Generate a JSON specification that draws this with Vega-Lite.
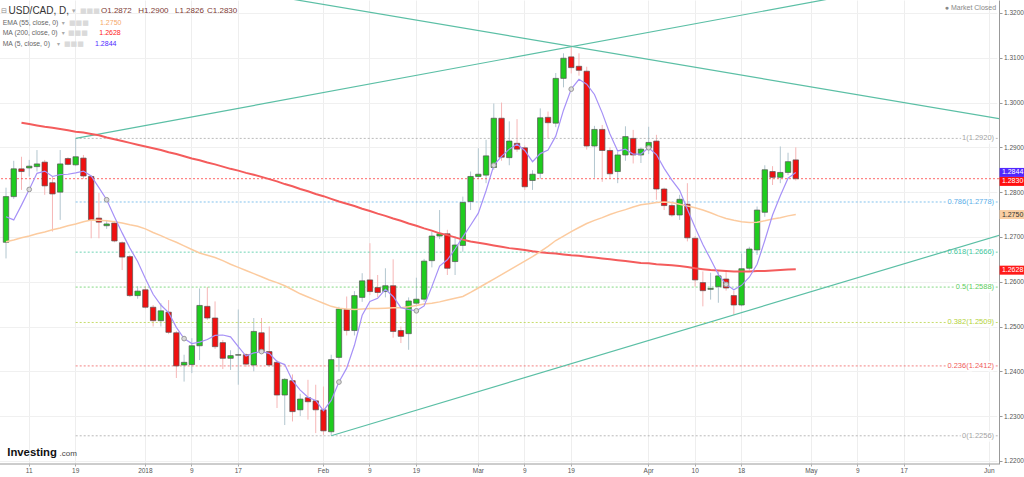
{
"$schema": "https://vega.github.io/schema/vega-lite/v6.json",
"width": 999, "height": 464,
"autosize": {"type": "none"},
"padding": {"left": 0, "top": 0, "right": 25, "bottom": 13},
"background": "white",
"config": {"view": {"stroke": null}, "font": "Liberation Sans"},
"data": {"values": [{}]},
"datasets": {
"candles": [
{"date":"2017-12-06","open":1.2688,"high":1.2810,"low":1.2652,"close":1.2790,"ma5":1.2745,"ema55":1.2689,"ma200":null},
{"date":"2017-12-07","open":1.2790,"high":1.2870,"low":1.2785,"close":1.2852,"ma5":1.2738,"ema55":1.2693,"ma200":null},
{"date":"2017-12-08","open":1.2852,"high":1.2879,"low":1.2805,"close":1.2846,"ma5":1.2771,"ema55":1.2698,"ma200":1.2955},
{"date":"2017-12-11","open":1.2854,"high":1.2872,"low":1.2835,"close":1.2858,"ma5":1.2806,"ema55":1.2702,"ma200":1.2952},
{"date":"2017-12-12","open":1.2857,"high":1.2894,"low":1.2846,"close":1.2863,"ma5":1.2842,"ema55":1.2707,"ma200":1.2949},
{"date":"2017-12-13","open":1.2867,"high":1.2872,"low":1.2794,"close":1.2814,"ma5":1.2847,"ema55":1.2711,"ma200":1.2946},
{"date":"2017-12-14","open":1.2821,"high":1.2835,"low":1.2712,"close":1.2796,"ma5":1.2835,"ema55":1.2716,"ma200":1.2944},
{"date":"2017-12-15","open":1.2800,"high":1.2894,"low":1.2738,"close":1.2863,"ma5":1.2839,"ema55":1.2720,"ma200":1.2941},
{"date":"2017-12-18","open":1.2875,"high":1.2878,"low":1.2860,"close":1.2862,"ma5":1.2840,"ema55":1.2725,"ma200":1.2938},
{"date":"2017-12-19","open":1.2861,"high":1.2920,"low":1.2858,"close":1.2879,"ma5":1.2843,"ema55":1.2729,"ma200":1.2935},
{"date":"2017-12-20","open":1.2876,"high":1.2883,"low":1.2830,"close":1.2836,"ma5":1.2847,"ema55":1.2734,"ma200":1.2933},
{"date":"2017-12-21","open":1.2835,"high":1.2838,"low":1.2697,"close":1.2738,"ma5":1.2836,"ema55":1.2738,"ma200":1.2930},
{"date":"2017-12-22","open":1.2742,"high":1.2798,"low":1.2697,"close":1.2733,"ma5":1.2810,"ema55":1.2737,"ma200":1.2927},
{"date":"2017-12-25","open":1.2725,"high":1.2738,"low":1.2718,"close":1.2729,"ma5":1.2783,"ema55":1.2736,"ma200":1.2922},
{"date":"2017-12-26","open":1.2731,"high":1.2736,"low":1.2688,"close":1.2691,"ma5":1.2745,"ema55":1.2734,"ma200":1.2918},
{"date":"2017-12-27","open":1.2687,"high":1.2690,"low":1.2626,"close":1.2655,"ma5":1.2709,"ema55":1.2731,"ma200":1.2914},
{"date":"2017-12-28","open":1.2656,"high":1.2660,"low":1.2566,"close":1.2569,"ma5":1.2675,"ema55":1.2727,"ma200":1.2910},
{"date":"2017-12-29","open":1.2569,"high":1.2590,"low":1.2562,"close":1.2579,"ma5":1.2645,"ema55":1.2724,"ma200":1.2906},
{"date":"2018-01-01","open":1.2582,"high":1.2590,"low":1.2540,"close":1.2543,"ma5":1.2607,"ema55":1.2718,"ma200":1.2902},
{"date":"2018-01-02","open":1.2543,"high":1.2548,"low":1.2500,"close":1.2513,"ma5":1.2572,"ema55":1.2710,"ma200":1.2898},
{"date":"2018-01-03","open":1.2513,"high":1.2552,"low":1.2500,"close":1.2535,"ma5":1.2548,"ema55":1.2703,"ma200":1.2894},
{"date":"2018-01-04","open":1.2532,"high":1.2559,"low":1.2483,"close":1.2487,"ma5":1.2531,"ema55":1.2695,"ma200":1.2889},
{"date":"2018-01-05","open":1.2486,"high":1.2490,"low":1.2385,"close":1.2412,"ma5":1.2498,"ema55":1.2688,"ma200":1.2885},
{"date":"2018-01-08","open":1.2414,"high":1.2437,"low":1.2377,"close":1.2420,"ma5":1.2473,"ema55":1.2680,"ma200":1.2880},
{"date":"2018-01-09","open":1.2415,"high":1.2474,"low":1.2396,"close":1.2457,"ma5":1.2462,"ema55":1.2672,"ma200":1.2875},
{"date":"2018-01-10","open":1.2457,"high":1.2585,"low":1.2425,"close":1.2547,"ma5":1.2465,"ema55":1.2664,"ma200":1.2871},
{"date":"2018-01-11","open":1.2545,"high":1.2588,"low":1.2515,"close":1.2519,"ma5":1.2471,"ema55":1.2659,"ma200":1.2866},
{"date":"2018-01-12","open":1.2519,"high":1.2556,"low":1.2450,"close":1.2455,"ma5":1.2480,"ema55":1.2654,"ma200":1.2862},
{"date":"2018-01-15","open":1.2464,"high":1.2470,"low":1.2405,"close":1.2429,"ma5":1.2481,"ema55":1.2647,"ma200":1.2857},
{"date":"2018-01-16","open":1.2429,"high":1.2447,"low":1.2403,"close":1.2435,"ma5":1.2477,"ema55":1.2639,"ma200":1.2852},
{"date":"2018-01-17","open":1.2436,"high":1.2538,"low":1.2370,"close":1.2437,"ma5":1.2455,"ema55":1.2632,"ma200":1.2848},
{"date":"2018-01-18","open":1.2437,"high":1.2440,"low":1.2410,"close":1.2416,"ma5":1.2434,"ema55":1.2625,"ma200":1.2843},
{"date":"2018-01-19","open":1.2414,"high":1.2519,"low":1.2400,"close":1.2489,"ma5":1.2441,"ema55":1.2618,"ma200":1.2839},
{"date":"2018-01-22","open":1.2486,"high":1.2519,"low":1.2440,"close":1.2444,"ma5":1.2444,"ema55":1.2611,"ma200":1.2834},
{"date":"2018-01-23","open":1.2444,"high":1.2500,"low":1.2410,"close":1.2414,"ma5":1.2440,"ema55":1.2604,"ma200":1.2829},
{"date":"2018-01-24","open":1.2420,"high":1.2425,"low":1.2318,"close":1.2347,"ma5":1.2422,"ema55":1.2598,"ma200":1.2824},
{"date":"2018-01-25","open":1.2347,"high":1.2385,"low":1.2280,"close":1.2382,"ma5":1.2415,"ema55":1.2591,"ma200":1.2818},
{"date":"2018-01-26","open":1.2379,"high":1.2393,"low":1.2288,"close":1.2310,"ma5":1.2379,"ema55":1.2582,"ma200":1.2813},
{"date":"2018-01-29","open":1.2314,"high":1.2350,"low":1.2300,"close":1.2338,"ma5":1.2358,"ema55":1.2573,"ma200":1.2807},
{"date":"2018-01-30","open":1.2341,"high":1.2381,"low":1.2292,"close":1.2332,"ma5":1.2342,"ema55":1.2566,"ma200":1.2802},
{"date":"2018-01-31","open":1.2334,"high":1.2370,"low":1.2262,"close":1.2314,"ma5":1.2335,"ema55":1.2559,"ma200":1.2796},
{"date":"2018-02-01","open":1.2314,"high":1.2366,"low":1.2258,"close":1.2267,"ma5":1.2312,"ema55":1.2552,"ma200":1.2791},
{"date":"2018-02-02","open":1.2265,"high":1.2437,"low":1.2256,"close":1.2426,"ma5":1.2335,"ema55":1.2545,"ma200":1.2785},
{"date":"2018-02-05","open":1.2431,"high":1.2544,"low":1.2399,"close":1.2539,"ma5":1.2376,"ema55":1.2541,"ma200":1.2779},
{"date":"2018-02-06","open":1.2538,"high":1.2567,"low":1.2480,"close":1.2491,"ma5":1.2407,"ema55":1.2539,"ma200":1.2774},
{"date":"2018-02-07","open":1.2491,"high":1.2579,"low":1.2480,"close":1.2569,"ma5":1.2458,"ema55":1.2538,"ma200":1.2769},
{"date":"2018-02-08","open":1.2565,"high":1.2619,"low":1.2555,"close":1.2602,"ma5":1.2525,"ema55":1.2539,"ma200":1.2763},
{"date":"2018-02-09","open":1.2604,"high":1.2686,"low":1.2570,"close":1.2578,"ma5":1.2556,"ema55":1.2540,"ma200":1.2758},
{"date":"2018-02-12","open":1.2587,"high":1.2615,"low":1.2565,"close":1.2576,"ma5":1.2563,"ema55":1.2540,"ma200":1.2752},
{"date":"2018-02-13","open":1.2578,"high":1.2630,"low":1.2565,"close":1.2591,"ma5":1.2583,"ema55":1.2541,"ma200":1.2747},
{"date":"2018-02-14","open":1.2591,"high":1.2650,"low":1.2475,"close":1.2489,"ma5":1.2567,"ema55":1.2542,"ma200":1.2741},
{"date":"2018-02-15","open":1.2491,"high":1.2500,"low":1.2463,"close":1.2478,"ma5":1.2542,"ema55":1.2542,"ma200":1.2736},
{"date":"2018-02-16","open":1.2484,"high":1.2565,"low":1.2448,"close":1.2557,"ma5":1.2538,"ema55":1.2544,"ma200":1.2730},
{"date":"2018-02-19","open":1.2552,"high":1.2609,"low":1.2545,"close":1.2561,"ma5":1.2535,"ema55":1.2547,"ma200":1.2725},
{"date":"2018-02-20","open":1.2561,"high":1.2651,"low":1.2555,"close":1.2646,"ma5":1.2546,"ema55":1.2550,"ma200":1.2719},
{"date":"2018-02-21","open":1.2647,"high":1.2712,"low":1.2632,"close":1.2702,"ma5":1.2589,"ema55":1.2552,"ma200":1.2714},
{"date":"2018-02-22","open":1.2702,"high":1.2760,"low":1.2695,"close":1.2707,"ma5":1.2635,"ema55":1.2555,"ma200":1.2708},
{"date":"2018-02-23","open":1.2707,"high":1.2716,"low":1.2615,"close":1.2630,"ma5":1.2649,"ema55":1.2559,"ma200":1.2704},
{"date":"2018-02-26","open":1.2645,"high":1.2701,"low":1.2615,"close":1.2682,"ma5":1.2673,"ema55":1.2563,"ma200":1.2699},
{"date":"2018-02-27","open":1.2681,"high":1.2790,"low":1.2667,"close":1.2777,"ma5":1.2700,"ema55":1.2567,"ma200":1.2694},
{"date":"2018-02-28","open":1.2779,"high":1.2846,"low":1.2760,"close":1.2835,"ma5":1.2726,"ema55":1.2576,"ma200":1.2690},
{"date":"2018-03-01","open":1.2835,"high":1.2898,"low":1.2830,"close":1.2840,"ma5":1.2753,"ema55":1.2586,"ma200":1.2687},
{"date":"2018-03-02","open":1.2838,"high":1.2917,"low":1.2820,"close":1.2881,"ma5":1.2803,"ema55":1.2596,"ma200":1.2684},
{"date":"2018-03-05","open":1.2855,"high":1.2998,"low":1.2850,"close":1.2965,"ma5":1.2860,"ema55":1.2606,"ma200":1.2681},
{"date":"2018-03-06","open":1.2965,"high":1.3000,"low":1.2870,"close":1.2878,"ma5":1.2880,"ema55":1.2616,"ma200":1.2678},
{"date":"2018-03-07","open":1.2877,"high":1.2958,"low":1.2860,"close":1.2914,"ma5":1.2896,"ema55":1.2626,"ma200":1.2675},
{"date":"2018-03-08","open":1.2909,"high":1.2963,"low":1.2890,"close":1.2896,"ma5":1.2907,"ema55":1.2636,"ma200":1.2673},
{"date":"2018-03-09","open":1.2899,"high":1.2904,"low":1.2805,"close":1.2812,"ma5":1.2893,"ema55":1.2646,"ma200":1.2671},
{"date":"2018-03-12","open":1.2826,"high":1.2849,"low":1.2805,"close":1.2840,"ma5":1.2868,"ema55":1.2656,"ma200":1.2668},
{"date":"2018-03-13","open":1.2842,"high":1.2987,"low":1.2830,"close":1.2966,"ma5":1.2886,"ema55":1.2667,"ma200":1.2666},
{"date":"2018-03-14","open":1.2967,"high":1.2980,"low":1.2920,"close":1.2955,"ma5":1.2894,"ema55":1.2679,"ma200":1.2664},
{"date":"2018-03-15","open":1.2954,"high":1.3066,"low":1.2945,"close":1.3054,"ma5":1.2925,"ema55":1.2692,"ma200":1.2663},
{"date":"2018-03-16","open":1.3054,"high":1.3110,"low":1.3034,"close":1.3099,"ma5":1.2983,"ema55":1.2702,"ma200":1.2661},
{"date":"2018-03-19","open":1.3102,"high":1.3125,"low":1.3065,"close":1.3078,"ma5":1.3030,"ema55":1.2712,"ma200":1.2659},
{"date":"2018-03-20","open":1.3081,"high":1.3110,"low":1.3060,"close":1.3072,"ma5":1.3052,"ema55":1.2721,"ma200":1.2658},
{"date":"2018-03-21","open":1.3070,"high":1.3080,"low":1.2895,"close":1.2903,"ma5":1.3041,"ema55":1.2730,"ma200":1.2656},
{"date":"2018-03-22","open":1.2903,"high":1.2948,"low":1.2832,"close":1.2940,"ma5":1.3018,"ema55":1.2737,"ma200":1.2654},
{"date":"2018-03-23","open":1.2940,"high":1.2950,"low":1.2823,"close":1.2893,"ma5":1.2977,"ema55":1.2743,"ma200":1.2652},
{"date":"2018-03-26","open":1.2893,"high":1.2900,"low":1.2830,"close":1.2841,"ma5":1.2930,"ema55":1.2750,"ma200":1.2650},
{"date":"2018-03-27","open":1.2846,"high":1.2890,"low":1.2820,"close":1.2883,"ma5":1.2892,"ema55":1.2756,"ma200":1.2648},
{"date":"2018-03-28","open":1.2883,"high":1.2947,"low":1.2870,"close":1.2924,"ma5":1.2896,"ema55":1.2761,"ma200":1.2646},
{"date":"2018-03-29","open":1.2920,"high":1.2939,"low":1.2864,"close":1.2883,"ma5":1.2885,"ema55":1.2767,"ma200":1.2644},
{"date":"2018-03-30","open":1.2883,"high":1.2900,"low":1.2865,"close":1.2896,"ma5":1.2885,"ema55":1.2772,"ma200":1.2642},
{"date":"2018-04-02","open":1.2899,"high":1.2946,"low":1.2885,"close":1.2911,"ma5":1.2899,"ema55":1.2774,"ma200":1.2641},
{"date":"2018-04-03","open":1.2914,"high":1.2928,"low":1.2783,"close":1.2807,"ma5":1.2884,"ema55":1.2777,"ma200":1.2639},
{"date":"2018-04-04","open":1.2807,"high":1.2810,"low":1.2760,"close":1.2770,"ma5":1.2853,"ema55":1.2778,"ma200":1.2638},
{"date":"2018-04-05","open":1.2770,"high":1.2775,"low":1.2745,"close":1.2749,"ma5":1.2827,"ema55":1.2777,"ma200":1.2637},
{"date":"2018-04-06","open":1.2749,"high":1.2794,"low":1.2738,"close":1.2784,"ma5":1.2804,"ema55":1.2773,"ma200":1.2635},
{"date":"2018-04-09","open":1.2773,"high":1.2820,"low":1.2690,"close":1.2698,"ma5":1.2762,"ema55":1.2769,"ma200":1.2633},
{"date":"2018-04-10","open":1.2697,"high":1.2702,"low":1.2589,"close":1.2604,"ma5":1.2721,"ema55":1.2765,"ma200":1.2630},
{"date":"2018-04-11","open":1.2598,"high":1.2623,"low":1.2545,"close":1.2580,"ma5":1.2683,"ema55":1.2760,"ma200":1.2628},
{"date":"2018-04-12","open":1.2583,"high":1.2620,"low":1.2560,"close":1.2585,"ma5":1.2650,"ema55":1.2754,"ma200":1.2626},
{"date":"2018-04-13","open":1.2589,"high":1.2623,"low":1.2553,"close":1.2613,"ma5":1.2616,"ema55":1.2747,"ma200":1.2625},
{"date":"2018-04-16","open":1.2606,"high":1.2623,"low":1.2580,"close":1.2586,"ma5":1.2594,"ema55":1.2741,"ma200":1.2624},
{"date":"2018-04-17","open":1.2569,"high":1.2580,"low":1.2526,"close":1.2548,"ma5":1.2582,"ema55":1.2737,"ma200":1.2623},
{"date":"2018-04-18","open":1.2548,"high":1.2663,"low":1.2545,"close":1.2629,"ma5":1.2592,"ema55":1.2734,"ma200":1.2623},
{"date":"2018-04-19","open":1.2630,"high":1.2678,"low":1.2625,"close":1.2673,"ma5":1.2610,"ema55":1.2732,"ma200":1.2623},
{"date":"2018-04-20","open":1.2671,"high":1.2768,"low":1.2660,"close":1.2760,"ma5":1.2639,"ema55":1.2733,"ma200":1.2624},
{"date":"2018-04-23","open":1.2755,"high":1.2860,"low":1.2745,"close":1.2850,"ma5":1.2692,"ema55":1.2736,"ma200":1.2624},
{"date":"2018-04-24","open":1.2846,"high":1.2858,"low":1.2816,"close":1.2833,"ma5":1.2749,"ema55":1.2740,"ma200":1.2625},
{"date":"2018-04-25","open":1.2833,"high":1.2902,"low":1.2820,"close":1.2844,"ma5":1.2792,"ema55":1.2743,"ma200":1.2626},
{"date":"2018-04-26","open":1.2844,"high":1.2888,"low":1.2838,"close":1.2868,"ma5":1.2831,"ema55":1.2747,"ma200":1.2627},
{"date":"2018-04-27","open":1.2872,"high":1.2900,"low":1.2826,"close":1.2830,"ma5":1.2844,"ema55":1.2750,"ma200":1.2628}
],
"fib": [
{"level":"1","price":1.2920,"label":"1(1.2920)"},
{"level":"0.786","price":1.2778,"label":"0.786(1.2778)"},
{"level":"0.618","price":1.2666,"label":"0.618(1.2666)"},
{"level":"0.5","price":1.2588,"label":"0.5(1.2588)"},
{"level":"0.382","price":1.2509,"label":"0.382(1.2509)"},
{"level":"0.236","price":1.2412,"label":"0.236(1.2412)"},
{"level":"0","price":1.2256,"label":"0(1.2256)"}
],
"trend": [
{"line":"a","date":"2017-12-19","price":1.2920},
{"line":"a","date":"2018-06-07","price":1.33104},
{"line":"b","date":"2018-01-17","price":1.32512},
{"line":"b","date":"2018-06-07","price":1.29562},
{"line":"c","date":"2018-02-02","price":1.2256},
{"line":"c","date":"2018-06-07","price":1.27179}
]
},
"layer": [
{"data":{"name":"candles"},
 "mark":{"type":"rule","strokeWidth":1},
 "encoding":{
  "x":{"field":"date","type":"nominal","title":null,
   "scale":{"type":"band","paddingInner":0,"paddingOuter":0,"range":[2.13,1024.2],
    "domain":["2017-12-06","2017-12-07","2017-12-08","2017-12-11","2017-12-12","2017-12-13","2017-12-14","2017-12-15","2017-12-18","2017-12-19","2017-12-20","2017-12-21","2017-12-22","2017-12-25","2017-12-26","2017-12-27","2017-12-28","2017-12-29",
    "2018-01-01","2018-01-02","2018-01-03","2018-01-04","2018-01-05","2018-01-08","2018-01-09","2018-01-10","2018-01-11","2018-01-12","2018-01-15","2018-01-16","2018-01-17","2018-01-18","2018-01-19","2018-01-22","2018-01-23","2018-01-24","2018-01-25","2018-01-26","2018-01-29","2018-01-30","2018-01-31",
    "2018-02-01","2018-02-02","2018-02-05","2018-02-06","2018-02-07","2018-02-08","2018-02-09","2018-02-12","2018-02-13","2018-02-14","2018-02-15","2018-02-16","2018-02-19","2018-02-20","2018-02-21","2018-02-22","2018-02-23","2018-02-26","2018-02-27","2018-02-28",
    "2018-03-01","2018-03-02","2018-03-05","2018-03-06","2018-03-07","2018-03-08","2018-03-09","2018-03-12","2018-03-13","2018-03-14","2018-03-15","2018-03-16","2018-03-19","2018-03-20","2018-03-21","2018-03-22","2018-03-23","2018-03-26","2018-03-27","2018-03-28","2018-03-29","2018-03-30",
    "2018-04-02","2018-04-03","2018-04-04","2018-04-05","2018-04-06","2018-04-09","2018-04-10","2018-04-11","2018-04-12","2018-04-13","2018-04-16","2018-04-17","2018-04-18","2018-04-19","2018-04-20","2018-04-23","2018-04-24","2018-04-25","2018-04-26","2018-04-27","2018-04-30",
    "2018-05-01","2018-05-02","2018-05-03","2018-05-04","2018-05-07","2018-05-08","2018-05-09","2018-05-10","2018-05-11","2018-05-14","2018-05-15","2018-05-16","2018-05-17","2018-05-18","2018-05-21","2018-05-22","2018-05-23","2018-05-24","2018-05-25","2018-05-28","2018-05-29","2018-05-30","2018-05-31",
    "2018-06-01","2018-06-04","2018-06-05","2018-06-06","2018-06-07"]},
   "axis":{"orient":"bottom","title":null,"domain":false,"grid":true,"gridColor":"#eeeeee","tickSize":2,"tickColor":"#aaaaaa","labelFontSize":6.5,"labelColor":"#555555","labelPadding":1,"labelAngle":0,"labelOverlap":false,"bandPosition":0.5,
    "values":["2017-12-11","2017-12-19","2018-01-01","2018-01-09","2018-01-17","2018-02-01","2018-02-09","2018-02-19","2018-03-01","2018-03-09","2018-03-19","2018-04-02","2018-04-10","2018-04-18","2018-05-01","2018-05-09","2018-05-17","2018-06-01"],
    "labelExpr":"['11','19','2018','9','17','Feb','9','19','Mar','9','19','Apr','10','18','May','9','17','Jun'][indexof(['2017-12-11','2017-12-19','2018-01-01','2018-01-09','2018-01-17','2018-02-01','2018-02-09','2018-02-19','2018-03-01','2018-03-09','2018-03-19','2018-04-02','2018-04-10','2018-04-18','2018-05-01','2018-05-09','2018-05-17','2018-06-01'], datum.value)]"}},
  "y":{"field":"low","type":"quantitative","title":null,
   "scale":{"domain":[1.2193,1.3229],"zero":false,"nice":false},
   "axis":{"orient":"right","title":null,"format":".4f","grid":true,"gridColor":"#f0f0f0","domainColor":"#999999","tickColor":"#999999","tickSize":3,"labelFontSize":6.5,"labelColor":"#555555","labelPadding":1.5,
    "values":[1.22,1.225,1.23,1.235,1.24,1.245,1.25,1.255,1.26,1.265,1.27,1.275,1.28,1.285,1.29,1.295,1.3,1.305,1.31,1.315,1.32]}},
  "y2":{"field":"high"},
  "color":{"condition":{"test":"datum.close < datum.open","value":"#f6b6b6"},"value":"#b2c6cf"}
 }},
{"data":{"name":"fib"},
 "mark":{"type":"rule","clip":true,"strokeDash":[2,2],"strokeWidth":1,"opacity":0.75},
 "encoding":{
  "x":{"datum":"2017-12-19","type":"nominal","title":null},
  "x2":{"datum":"2018-06-07"},
  "y":{"field":"price","type":"quantitative","title":null},
  "color":{"field":"level","type":"nominal","legend":null,
   "scale":{"domain":["1","0.786","0.618","0.5","0.382","0.236","0"],"range":["#a3a3a3","#5aaee8","#3ec59c","#5ccc5c","#b3d23a","#f05a5a","#a3a3a3"]}}
 }},
{"data":{"name":"fib"},
 "mark":{"type":"text","align":"right","baseline":"middle","dx":-3,"fontSize":7.5,"stroke":"white","strokeWidth":3,"fill":"white"},
 "encoding":{
  "x":{"datum":"2018-06-04","type":"nominal","title":null},
  "y":{"field":"price","type":"quantitative","title":null},
  "text":{"field":"label"}
 }},
{"data":{"name":"fib"},
 "mark":{"type":"text","align":"right","baseline":"middle","dx":-3,"fontSize":7.5},
 "encoding":{
  "x":{"datum":"2018-06-04","type":"nominal","title":null},
  "y":{"field":"price","type":"quantitative","title":null},
  "text":{"field":"label"},
  "color":{"field":"level","type":"nominal","legend":null}
 }},
{"mark":{"type":"rule","color":"#ff3a3a","strokeDash":[2,2],"strokeWidth":0.9,"opacity":0.85},
 "encoding":{"y":{"datum":1.2830,"title":null}}},
{"data":{"name":"trend"},
 "mark":{"type":"line","clip":true,"color":"#5bbfa5","strokeWidth":1.2},
 "encoding":{
  "x":{"field":"date","type":"nominal","title":null},
  "y":{"field":"price","type":"quantitative","title":null},
  "detail":{"field":"line"}
 }},
{"data":{"name":"candles"},
 "mark":{"type":"bar","width":{"band":0.7},"stroke":"#555555","strokeWidth":0.7},
 "encoding":{
  "x":{"field":"date","type":"nominal","title":null},
  "y":{"field":"open","type":"quantitative","title":null},
  "y2":{"field":"close"},
  "fill":{"condition":{"test":"datum.close < datum.open","value":"#f01010"},"value":"#1fcc1f"}
 }},
{"data":{"name":"candles"},
 "mark":{"type":"line","color":"#f45c5c","strokeWidth":2},
 "encoding":{
  "x":{"field":"date","type":"nominal","title":null},
  "y":{"field":"ma200","type":"quantitative","title":null}
 }},
{"data":{"name":"candles"},
 "mark":{"type":"line","color":"#fccb9f","strokeWidth":1.5},
 "encoding":{
  "x":{"field":"date","type":"nominal","title":null},
  "y":{"field":"ema55","type":"quantitative","title":null}
 }},
{"data":{"name":"candles"},
 "mark":{"type":"line","color":"#a691f7","strokeWidth":1.2},
 "encoding":{
  "x":{"field":"date","type":"nominal","title":null},
  "y":{"field":"ma5","type":"quantitative","title":null}
 }},
{"data":{"name":"candles"},
 "transform":[{"filter":{"field":"date","oneOf":["2017-12-11","2017-12-25","2018-01-08","2018-01-22","2018-02-05","2018-02-19","2018-03-05","2018-03-19","2018-04-02","2018-04-16"]}}],
 "mark":{"type":"point","shape":"circle","size":22,"filled":true,"fill":"#d9d9d9","stroke":"#9a9a9a","strokeWidth":1,"opacity":1},
 "encoding":{
  "x":{"field":"date","type":"nominal","title":null},
  "y":{"field":"ma5","type":"quantitative","title":null}
 }},
{"mark":{"type":"rule","color":"#9a9a9a","strokeWidth":1},
 "encoding":{"y":{"datum":1.2193,"title":null}}},
{"encoding":{"x":{"datum":"2018-06-06","type":"nominal","title":null},"y":{"datum":1.2844,"title":null}},
 "layer":[
  {"mark":{"type":"bar","width":26,"yOffset":-4.5,"y2Offset":4.5,"color":"#5227ff"},"encoding":{"y2":{"datum":1.2844}}},
  {"mark":{"type":"text","text":"1.2844","color":"white","fontSize":7,"align":"center","baseline":"middle"}}
 ]},
{"encoding":{"x":{"datum":"2018-06-06","type":"nominal","title":null},"y":{"datum":1.2830,"title":null}},
 "layer":[
  {"mark":{"type":"bar","width":26,"yOffset":-1.8,"y2Offset":7.2,"color":"#ff1010"},"encoding":{"y2":{"datum":1.2830}}},
  {"mark":{"type":"text","text":"1.2830","color":"white","fontSize":7,"align":"center","baseline":"middle","dy":2.7}}
 ]},
{"encoding":{"x":{"datum":"2018-06-06","type":"nominal","title":null},"y":{"datum":1.2750,"title":null}},
 "layer":[
  {"mark":{"type":"bar","width":26,"yOffset":-4.5,"y2Offset":4.5,"color":"#f9cfa3"},"encoding":{"y2":{"datum":1.2750}}},
  {"mark":{"type":"text","text":"1.2750","color":"#333333","fontSize":7,"align":"center","baseline":"middle"}}
 ]},
{"encoding":{"x":{"datum":"2018-06-06","type":"nominal","title":null},"y":{"datum":1.2628,"title":null}},
 "layer":[
  {"mark":{"type":"bar","width":26,"yOffset":-3.5,"y2Offset":5.5,"color":"#ff1a1a"},"encoding":{"y2":{"datum":1.2628}}},
  {"mark":{"type":"text","text":"1.2628","color":"white","fontSize":7,"align":"center","baseline":"middle","dy":1}}
 ]},
{"encoding":{"x":{"datum":"2017-12-06","type":"nominal","title":null},"y":{"datum":1.32045,"title":null}},
 "layer":[
  {"mark":{"type":"text","text":"⊟","align":"left","baseline":"middle","dx":-5,"fontSize":7,"color":"#888888","font":"DejaVu Sans"}},
  {"mark":{"type":"text","text":"USD/CAD, D,","align":"left","baseline":"middle","dx":2.5,"fontSize":10,"color":"#333333"}},
  {"mark":{"type":"text","text":"▾","align":"left","baseline":"middle","dx":66,"fontSize":7,"color":"#aaaaaa","font":"DejaVu Sans"}},
  {"mark":{"type":"text","text":"■■■","align":"left","baseline":"middle","dx":74,"fontSize":7,"color":"#dadada","font":"DejaVu Sans"}},
  {"mark":{"type":"text","text":"O1.2872","align":"left","baseline":"middle","dx":95,"fontSize":8,"color":"#7d3a33"}},
  {"mark":{"type":"text","text":"H1.2900","align":"left","baseline":"middle","dx":132.3,"fontSize":8,"color":"#7d3a33"}},
  {"mark":{"type":"text","text":"L1.2826","align":"left","baseline":"middle","dx":169,"fontSize":8,"color":"#7d3a33"}},
  {"mark":{"type":"text","text":"C1.2830","align":"left","baseline":"middle","dx":201,"fontSize":8,"color":"#7d3a33"}}
 ]},
{"encoding":{"x":{"datum":"2017-12-06","type":"nominal","title":null},"y":{"datum":1.31783,"title":null}},
 "layer":[
  {"mark":{"type":"text","text":"EMA (55, close, 0)","align":"left","baseline":"middle","dx":-3.3,"fontSize":6.8,"color":"#666666"}},
  {"mark":{"type":"text","text":"▾","align":"left","baseline":"middle","dx":55.7,"fontSize":6,"color":"#aaaaaa","font":"DejaVu Sans"}},
  {"mark":{"type":"text","text":"■■■","align":"left","baseline":"middle","dx":63,"fontSize":7,"color":"#dadada","font":"DejaVu Sans"}},
  {"mark":{"type":"text","text":"1.2750","align":"left","baseline":"middle","dx":94,"fontSize":7,"color":"#f5a86a"}}
 ]},
{"encoding":{"x":{"datum":"2017-12-06","type":"nominal","title":null},"y":{"datum":1.31547,"title":null}},
 "layer":[
  {"mark":{"type":"text","text":"MA (200, close, 0)","align":"left","baseline":"middle","dx":-3.3,"fontSize":6.8,"color":"#666666"}},
  {"mark":{"type":"text","text":"▾","align":"left","baseline":"middle","dx":55.7,"fontSize":6,"color":"#aaaaaa","font":"DejaVu Sans"}},
  {"mark":{"type":"text","text":"■■■","align":"left","baseline":"middle","dx":62,"fontSize":7,"color":"#dadada","font":"DejaVu Sans"}},
  {"mark":{"type":"text","text":"1.2628","align":"left","baseline":"middle","dx":93.3,"fontSize":7,"color":"#ff2020"}}
 ]},
{"encoding":{"x":{"datum":"2017-12-06","type":"nominal","title":null},"y":{"datum":1.31308,"title":null}},
 "layer":[
  {"mark":{"type":"text","text":"MA (5, close, 0)","align":"left","baseline":"middle","dx":-3.3,"fontSize":6.8,"color":"#666666"}},
  {"mark":{"type":"text","text":"▾","align":"left","baseline":"middle","dx":51,"fontSize":6,"color":"#aaaaaa","font":"DejaVu Sans"}},
  {"mark":{"type":"text","text":"■■■","align":"left","baseline":"middle","dx":58,"fontSize":7,"color":"#dadada","font":"DejaVu Sans"}},
  {"mark":{"type":"text","text":"1.2844","align":"left","baseline":"middle","dx":89,"fontSize":7,"color":"#4f2bff"}}
 ]},
{"mark":{"type":"text","text":"● Market Closed","align":"right","baseline":"middle","dx":-1,"fontSize":7,"color":"#888888"},
 "encoding":{"x":{"datum":"2018-06-04","type":"nominal","title":null},"y":{"datum":1.32105,"title":null}}},
{"encoding":{"x":{"datum":"2017-12-06","type":"nominal","title":null},"y":{"datum":1.22112,"title":null}},
 "layer":[
  {"mark":{"type":"text","text":"Investing","align":"left","baseline":"alphabetic","dx":1.3,"fontSize":11.3,"fontWeight":"bold","color":"#111111"}},
  {"mark":{"type":"text","text":".com","align":"left","baseline":"alphabetic","dx":53.5,"fontSize":8,"color":"#444444"}}
 ]}
]
}
